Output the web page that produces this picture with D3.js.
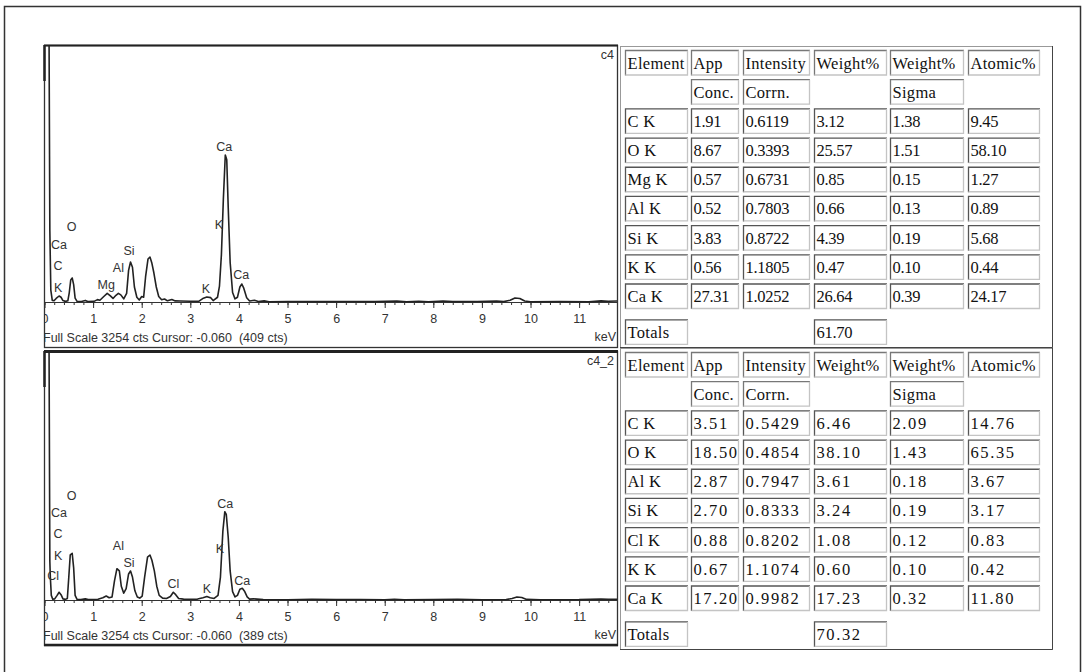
<!DOCTYPE html>
<html>
<head>
<meta charset="utf-8">
<script src="https://cdn.jsdelivr.net/npm/d3@7"></script>
<style>
  body { margin: 0; background: #fff; }
  svg { display: block; }
</style>
</head>
<body>
<svg id="chart" width="1084" height="672"></svg>
<script>
// Spectrum data: [energy keV, counts]
const topSpectrum = [
  [0.04, 4500], [0.09, 3900], [0.11, 900], [0.13, 150], [0.16, 20], [0.20, 18], [0.24, 45],
  [0.30, 76], [0.34, 60], [0.38, 18], [0.43, 8], [0.48, 15], [0.51, 120], [0.54, 280],
  [0.57, 304], [0.60, 220], [0.63, 50], [0.67, 8], [0.76, 6], [0.84, 20], [0.89, 6],
  [1.02, 8], [1.09, 30], [1.14, 22], [1.22, 70], [1.29, 110], [1.35, 80], [1.41, 45],
  [1.47, 85], [1.52, 110], [1.57, 90], [1.63, 40], [1.69, 110], [1.73, 400], [1.77, 506],
  [1.81, 440], [1.85, 190], [1.90, 60], [1.95, 25], [2.00, 70], [2.04, 60], [2.08, 320],
  [2.13, 545], [2.17, 570], [2.21, 490], [2.25, 370], [2.30, 190], [2.35, 70], [2.41, 28],
  [2.47, 38], [2.53, 15], [2.62, 32], [2.69, 14], [2.80, 12], [3.00, 10], [3.18, 10],
  [3.27, 48], [3.34, 63], [3.42, 55], [3.47, 18], [3.56, 60], [3.60, 200], [3.64, 600],
  [3.68, 1300], [3.72, 1861], [3.75, 1800], [3.78, 1200], [3.82, 500], [3.87, 120],
  [3.92, 40], [3.97, 60], [4.02, 190], [4.06, 228], [4.10, 175], [4.16, 55], [4.22, 12],
  [4.32, 22], [4.40, 5], [4.52, 14], [4.62, 4], [5.00, 6], [5.60, 5], [6.20, 7], [6.80, 5],
  [7.25, 12], [7.45, 4], [7.70, 10], [7.90, 4], [8.20, 12], [8.40, 5], [8.90, 6], [9.30, 12],
  [9.45, 5], [9.58, 22], [9.68, 51], [9.78, 45], [9.88, 12], [10.00, 4], [10.60, 5],
  [11.20, 4], [11.45, 14], [11.60, 10], [11.80, 12]
];

const bottomSpectrum = [
  [0.04, 4500], [0.09, 3900], [0.11, 500], [0.12, 300], [0.14, 60], [0.17, 10], [0.21, 15],
  [0.26, 60], [0.30, 101], [0.34, 70], [0.38, 15], [0.43, 8], [0.47, 20], [0.50, 300],
  [0.53, 590], [0.57, 610], [0.60, 420], [0.63, 60], [0.67, 8], [0.75, 5], [0.84, 15],
  [0.90, 6], [1.00, 6], [1.10, 10], [1.20, 30], [1.27, 52], [1.33, 30], [1.39, 40],
  [1.44, 250], [1.49, 409], [1.54, 380], [1.58, 180], [1.63, 90], [1.68, 150], [1.73, 340],
  [1.77, 379], [1.81, 300], [1.86, 120], [1.91, 40], [1.96, 25], [2.01, 50], [2.06, 300],
  [2.12, 560], [2.17, 588], [2.21, 520], [2.26, 380], [2.31, 180], [2.36, 60], [2.43, 25],
  [2.51, 20], [2.59, 45], [2.65, 101], [2.70, 70], [2.76, 20], [2.86, 12], [3.00, 10],
  [3.15, 12], [3.26, 30], [3.34, 46], [3.41, 30], [3.49, 20], [3.57, 60], [3.62, 300],
  [3.67, 900], [3.71, 1154], [3.74, 1120], [3.78, 820], [3.82, 380], [3.87, 110],
  [3.92, 40], [3.97, 60], [4.02, 140], [4.07, 153], [4.12, 110], [4.17, 40], [4.22, 12],
  [4.30, 15], [4.50, 5], [5.00, 4], [5.50, 8], [6.00, 5], [6.50, 7], [7.00, 4], [7.20, 10],
  [7.40, 4], [8.00, 5], [8.50, 9], [9.00, 4], [9.50, 6], [9.62, 20], [9.72, 39], [9.82, 32],
  [9.92, 8], [10.20, 4], [11.00, 5], [11.45, 12], [11.60, 8], [11.80, 10]
];

// Peak labels: [text, energy keV, counts]
const topPeakLabels = [
  ['O', 0.56, 953], ['Ca', 0.30, 734], ['C', 0.28, 456], ['K', 0.28, 186],
  ['Mg', 1.27, 224], ['Al', 1.52, 439], ['Si', 1.74, 658], ['K', 3.32, 173],
  ['Ca', 3.70, 1975], ['K', 3.59, 984], ['Ca', 4.05, 351]
];
const bottomPeakLabels = [
  ['O', 0.56, 1372], ['Ca', 0.30, 1146], ['C', 0.28, 872], ['K', 0.28, 588],
  ['Cl', 0.18, 314], ['Al', 1.52, 706], ['Si', 1.74, 493], ['Cl', 2.65, 218],
  ['K', 3.34, 153], ['Ca', 3.72, 1264], ['K', 3.61, 676], ['Ca', 4.07, 261]
];

const keVTicks = [0, 1, 2, 3, 4, 5, 6, 7, 8, 9, 10, 11];
const fullScale = 3254;

// Quantification tables
const tableHeader = ['Element', 'App', 'Intensity', 'Weight%', 'Weight%', 'Atomic%'];
const tableSubHeader = ['', 'Conc.', 'Corrn.', '', 'Sigma', ''];
const table1Rows = [
  ['C K', '1.91', '0.6119', '3.12', '1.38', '9.45'],
  ['O K', '8.67', '0.3393', '25.57', '1.51', '58.10'],
  ['Mg K', '0.57', '0.6731', '0.85', '0.15', '1.27'],
  ['Al K', '0.52', '0.7803', '0.66', '0.13', '0.89'],
  ['Si K', '3.83', '0.8722', '4.39', '0.19', '5.68'],
  ['K K', '0.56', '1.1805', '0.47', '0.10', '0.44'],
  ['Ca K', '27.31', '1.0252', '26.64', '0.39', '24.17']
];
const table2Rows = [
  ['C K', '3.51', '0.5429', '6.46', '2.09', '14.76'],
  ['O K', '18.50', '0.4854', '38.10', '1.43', '65.35'],
  ['Al K', '2.87', '0.7947', '3.61', '0.18', '3.67'],
  ['Si K', '2.70', '0.8333', '3.24', '0.19', '3.17'],
  ['Cl K', '0.88', '0.8202', '1.08', '0.12', '0.83'],
  ['K K', '0.67', '1.1074', '0.60', '0.10', '0.42'],
  ['Ca K', '17.20', '0.9982', '17.23', '0.32', '11.80']
];
const table1Totals = ['Totals', '', '', '61.70', '', ''];
const table2Totals = ['Totals', '', '', '70.32', '', ''];

const svg = d3.select('#chart');
const sans = 'Liberation Sans, Arial, sans-serif';

// outer frame
svg.append('path')
  .attr('d', 'M4.5,700V6.5H1080.5V700')
  .attr('fill', 'none')
  .attr('stroke', '#333')
  .attr('stroke-width', 1.5);

const x = d3.scaleLinear().domain([0, 11.8]).range([44.5, 618]);
const minorTicks = d3.range(0, 11.81, 0.2);

const panels = [
  { name: 'c4', spectrum: topSpectrum, labels: topPeakLabels, cursor: '(409 cts)', top: 45, bottom: 347, base: 302 },
  { name: 'c4_2', spectrum: bottomSpectrum, labels: bottomPeakLabels, cursor: '(389 cts)', top: 351, bottom: 645, base: 600 }
];

panels.forEach((p, i) => {
  const y = d3.scaleLinear().domain([0, fullScale]).range([p.base, p.top]);
  const g = svg.append('g');

  g.append('clipPath').attr('id', 'panel' + i)
    .append('rect')
    .attr('x', 44).attr('y', p.top)
    .attr('width', 573).attr('height', p.bottom - p.top);
  g.append('clipPath').attr('id', 'plot' + i)
    .append('rect')
    .attr('x', 44).attr('y', p.top)
    .attr('width', 573).attr('height', p.base - p.top + 1);

  const inner = g.append('g').attr('clip-path', `url(#panel${i})`);

  // minor ticks
  inner.append('g')
    .attr('transform', `translate(0,${p.base})`)
    .call(d3.axisBottom(x).tickValues(minorTicks).tickSize(3).tickSizeOuter(0).tickFormat(''))
    .call(a => a.selectAll('line, path').attr('stroke', '#333'));

  // major ticks
  inner.append('g')
    .attr('transform', `translate(0,${p.base})`)
    .call(d3.axisBottom(x).tickValues(keVTicks).tickSize(6).tickSizeOuter(0).tickPadding(6).tickFormat(d3.format('d')))
    .attr('font-family', sans)
    .attr('font-size', 12.5)
    .call(a => a.selectAll('line, path').attr('stroke', '#333'))
    .call(a => a.selectAll('text').attr('fill', '#333'));

  // spectrum
  const line = d3.line().x(d => x(d[0])).y(d => y(d[1]));
  inner.append('path')
    .datum(p.spectrum)
    .attr('clip-path', `url(#plot${i})`)
    .attr('d', line)
    .attr('fill', 'none')
    .attr('stroke', '#222')
    .attr('stroke-width', 1.6)
    .attr('stroke-linejoin', 'round');

  // peak labels
  inner.selectAll('text.peak')
    .data(p.labels)
    .join('text')
    .attr('class', 'peak')
    .attr('x', d => x(d[1]))
    .attr('y', d => y(d[2]))
    .attr('dy', '0.36em')
    .attr('text-anchor', 'middle')
    .attr('font-family', sans)
    .attr('font-size', 12.5)
    .attr('fill', '#333')
    .text(d => d[0]);

  inner.append('text')
    .attr('x', 43)
    .attr('y', p.bottom - 5)
    .attr('font-family', sans)
    .attr('font-size', 12.5)
    .attr('fill', '#333')
    .style('white-space', 'pre')
    .text('Full Scale 3254 cts Cursor: -0.060  ' + p.cursor);

  inner.append('text')
    .attr('x', 616)
    .attr('y', p.bottom - 6)
    .attr('text-anchor', 'end')
    .attr('font-family', sans)
    .attr('font-size', 12.5)
    .attr('fill', '#333')
    .text('keV');

  inner.append('text')
    .attr('x', 614)
    .attr('y', p.top + 14)
    .attr('text-anchor', 'end')
    .attr('font-family', sans)
    .attr('font-size', 12.5)
    .attr('fill', '#333')
    .text(p.name);

  // panel frame
  g.append('rect')
    .attr('x', 44.5).attr('y', p.top + 0.5)
    .attr('width', 573).attr('height', p.bottom - p.top)
    .attr('fill', 'none')
    .attr('stroke', '#333')
    .attr('stroke-width', 1.3);
  g.append('line')
    .attr('x1', 44).attr('x2', 618)
    .attr('y1', p.top + 0.5).attr('y2', p.top + 0.5)
    .attr('stroke', '#222').attr('stroke-width', i === 0 ? 2 : 3);
  g.append('line')
    .attr('x1', 44.5).attr('x2', 44.5)
    .attr('y1', p.top).attr('y2', p.top + 36)
    .attr('stroke', '#222').attr('stroke-width', 2.5);
  if (i === 1) {
    g.append('line')
      .attr('x1', 44).attr('x2', 618)
      .attr('y1', p.bottom).attr('y2', p.bottom)
      .attr('stroke', '#222').attr('stroke-width', 2.5);
  }
});

// tables
const colLeft = [625, 691, 743, 814, 890, 968];
const colWidth = [63, 48, 67, 73, 74, 72];

function drawTable(rows, totals, top, numSpacing) {
  const g = svg.append('g');
  const rowY = d3.scaleLinear().domain([0, 8]).range([top + 4, top + 237.5]);
  const allRows = [tableHeader, tableSubHeader, ...rows];
  const cells = [];
  allRows.forEach((r, ri) => r.forEach((c, ci) => { if (c) cells.push({ text: c, row: ri, col: ci }); }));
  totals.forEach((c, ci) => { if (c) cells.push({ text: c, row: 9.23, col: ci }); });

  // table outer border
  g.append('rect')
    .attr('x', 620.5).attr('y', top + 0.5)
    .attr('width', 432).attr('height', 301)
    .attr('fill', 'none')
    .attr('stroke', '#999');
  g.append('path')
    .attr('d', `M1052.5,${top}V${top + 301.5}H620`)
    .attr('fill', 'none')
    .attr('stroke', '#444');

  const cell = g.selectAll('g.cell')
    .data(cells)
    .join('g')
    .attr('class', 'cell')
    .attr('transform', d => `translate(${colLeft[d.col]},${rowY(d.row)})`);

  const h = 25.5;
  cell.append('path')
    .attr('d', d => `M0.5,${h}V0.5H${colWidth[d.col]}`)
    .attr('fill', 'none')
    .attr('stroke', d => d.row < 2 ? '#777' : '#555')
    .attr('stroke-width', 1.3);
  cell.append('path')
    .attr('d', d => `M${colWidth[d.col] - 0.5},0.5V${h - 0.5}H0.5`)
    .attr('fill', 'none')
    .attr('stroke', '#c4c4c4')
    .attr('stroke-width', 1.3);

  cell.append('text')
    .attr('x', 2.5)
    .attr('y', 18.5)
    .attr('font-family', 'Liberation Serif, Times New Roman, serif')
    .attr('font-size', 16.5)
    .attr('fill', '#111')
    .attr('letter-spacing', d => /^[\d.]+$/.test(d.text) ? numSpacing : 0.3)
    .text(d => d.text);
}

drawTable(table1Rows, table1Totals, 46, -0.3);
drawTable(table2Rows, table2Totals, 348, 1.6);
</script>
</body>
</html>
